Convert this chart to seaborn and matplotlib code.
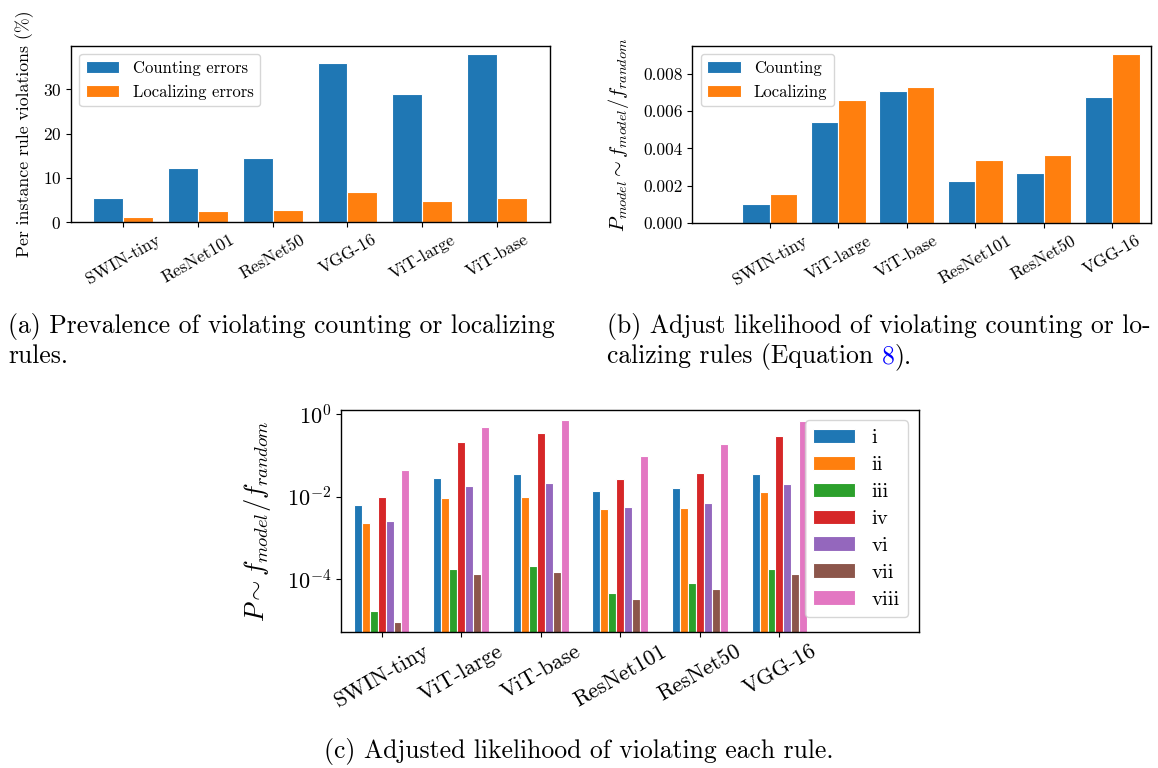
import pandas as pd
import seaborn as sns
import matplotlib
matplotlib.use("Agg")
import matplotlib.pyplot as plt
from matplotlib.ticker import NullLocator

# (a) prevalence of violating counting / localizing rules (%)
models_a = ["SWIN-tiny", "ResNet101", "ResNet50", "VGG-16", "ViT-large", "ViT-base"]
counting_a = [5.5, 12.2, 14.5, 35.9, 28.9, 37.9]
localizing_a = [1.1, 2.5, 2.8, 6.75, 4.9, 5.4]

# (b) adjusted likelihood, counting vs localizing
models_b = ["SWIN-tiny", "ViT-large", "ViT-base", "ResNet101", "ResNet50", "VGG-16"]
counting_b = [0.00104, 0.00540, 0.00709, 0.00227, 0.00270, 0.00673]
localizing_b = [0.00154, 0.00657, 0.00728, 0.00336, 0.00367, 0.00904]

# (c) adjusted likelihood per rule (same model order as b)
rules = ["i", "ii", "iii", "iv", "vi", "vii", "viii"]
rule_i = [6.3e-3, 0.028, 0.036, 0.0139, 0.0159, 0.035]
rule_ii = [2.3e-3, 9.3e-3, 0.010, 5.0e-3, 5.4e-3, 0.0129]
rule_iii = [1.66e-5, 1.8e-4, 2.1e-4, 4.6e-5, 8.1e-5, 1.75e-4]
rule_iv = [9.5e-3, 0.204, 0.338, 0.027, 0.037, 0.29]
rule_vi = [2.6e-3, 0.0177, 0.021, 5.6e-3, 7.1e-3, 0.0205]
rule_vii = [9e-6, 1.32e-4, 1.48e-4, 3.3e-5, 5.9e-5, 1.35e-4]
rule_viii = [0.043, 0.483, 0.71, 0.095, 0.183, 0.66]

sns.set_style("ticks")
plt.rcParams["font.family"] = ["cmr10", "DejaVu Serif"]
plt.rcParams["mathtext.fontset"] = "cm"
plt.rcParams["axes.formatter.use_mathtext"] = True
plt.rcParams["axes.edgecolor"] = "black"
plt.rcParams["axes.linewidth"] = 1.0
plt.rcParams["xtick.color"] = "black"
plt.rcParams["ytick.color"] = "black"
plt.rcParams["text.color"] = "black"
plt.rcParams["axes.labelcolor"] = "black"

W, H = 1158, 768
fig = plt.figure(figsize=(W / 100, H / 100), dpi=100)


def box(left, top, right, bottom):
    return [left / W, 1 - bottom / H, (right - left) / W, (bottom - top) / H]


ax_a = fig.add_axes(box(71, 45.7, 550, 222.3))
ax_b = fig.add_axes(box(692.3, 45.7, 1150.7, 223.3))
ax_c = fig.add_axes(box(341, 410, 918.7, 631.7))

pal2 = sns.color_palette("tab10", 2)
bar_kw = dict(saturation=1, edgecolor="white", linewidth=0.8, errorbar=None)

# ---- (a)
df_a = pd.DataFrame({
    "model": models_a * 2,
    "value": counting_a + localizing_a,
    "kind": ["Counting errors"] * len(models_a) + ["Localizing errors"] * len(models_a),
})
sns.barplot(data=df_a, x="model", y="value", hue="kind", palette=pal2,
            width=0.8, ax=ax_a, **bar_kw)
ax_a.set_xlabel("")
ax_a.set_ylabel("Per instance rule violations (%)", fontsize=12.8, labelpad=6)
ax_a.set_xlim(-0.70, 5.71)
ax_a.set_yticks([0, 10, 20, 30])
ax_a.tick_params(labelsize=12.5)
ax_a.tick_params(axis="x", rotation=30)
h, l = ax_a.get_legend_handles_labels()
ax_a.legend(h, l, loc="upper left", fontsize=12, handlelength=2.0,
            title=None, frameon=True)

# ---- (b)
df_b = pd.DataFrame({
    "model": models_b * 2,
    "value": counting_b + localizing_b,
    "kind": ["Counting"] * len(models_b) + ["Localizing"] * len(models_b),
})
sns.barplot(data=df_b, x="model", y="value", hue="kind", palette=pal2,
            width=0.8, ax=ax_b, **bar_kw)
ax_b.set_xlabel("")
ax_b.set_ylabel(r"$P_{model} \sim f_{model}/f_{random}$", fontsize=14.6, labelpad=9)
ax_b.set_xlim(-1.13, 5.56)
ax_b.set_yticks([0, 0.002, 0.004, 0.006, 0.008])
ax_b.set_yticklabels(["0.000", "0.002", "0.004", "0.006", "0.008"])
ax_b.tick_params(labelsize=12.5)
ax_b.tick_params(axis="x", rotation=30)
h, l = ax_b.get_legend_handles_labels()
ax_b.legend(h, l, loc="upper left", fontsize=12, handlelength=2.0,
            title=None, frameon=True)

# ---- (c)
rule_vals = [rule_i, rule_ii, rule_iii, rule_iv, rule_vi, rule_vii, rule_viii]
df_c = pd.DataFrame({
    "model": models_b * len(rules),
    "value": [v for vals in rule_vals for v in vals],
    "rule": [r for r in rules for _ in models_b],
})
sns.barplot(data=df_c, x="model", y="value", hue="rule",
            palette=sns.color_palette("tab10", len(rules)),
            width=0.7, ax=ax_c, **bar_kw)
ax_c.set_yscale("log")
ax_c.set_xlabel("")
ax_c.set_ylabel(r"$P \sim f_{model}/f_{random}$", fontsize=19, labelpad=10)
ax_c.set_ylim(5.3e-6, 1.25)
ax_c.set_xlim(-0.51, 6.75)
ax_c.set_yticks([1e-4, 1e-2, 1])
ax_c.yaxis.set_minor_locator(NullLocator())
ax_c.tick_params(labelsize=16)
ax_c.tick_params(axis="x", rotation=30)
h, l = ax_c.get_legend_handles_labels()
ax_c.legend(h, l, loc="upper right", fontsize=15, handlelength=2.0,
            labelspacing=0.4, title=None, frameon=True)

# ---- captions
cap = 18.5
fig.text(8 / W, 1 - 333 / H, "(a) Prevalence of violating counting or localizing", fontsize=cap)
fig.text(8 / W, 1 - 363 / H, "rules.", fontsize=cap)
fig.text(607 / W, 1 - 333 / H, "(b) Adjust likelihood of violating counting or lo-", fontsize=cap)
renderer = fig.canvas.get_renderer()
t1 = fig.text(607 / W, 1 - 363 / H, "calizing rules (Equation ", fontsize=cap)
x1 = t1.get_window_extent(renderer).x1
t2 = fig.text(x1 / W, 1 - 363 / H, "8", fontsize=cap, color="#0000ff")
x2 = t2.get_window_extent(renderer).x1
fig.text(x2 / W, 1 - 363 / H, ").", fontsize=cap)
fig.text(579 / W, 1 - 758 / H, "(c) Adjusted likelihood of violating each rule.",
         fontsize=cap, ha="center")

fig.savefig("out.png", dpi=100)
